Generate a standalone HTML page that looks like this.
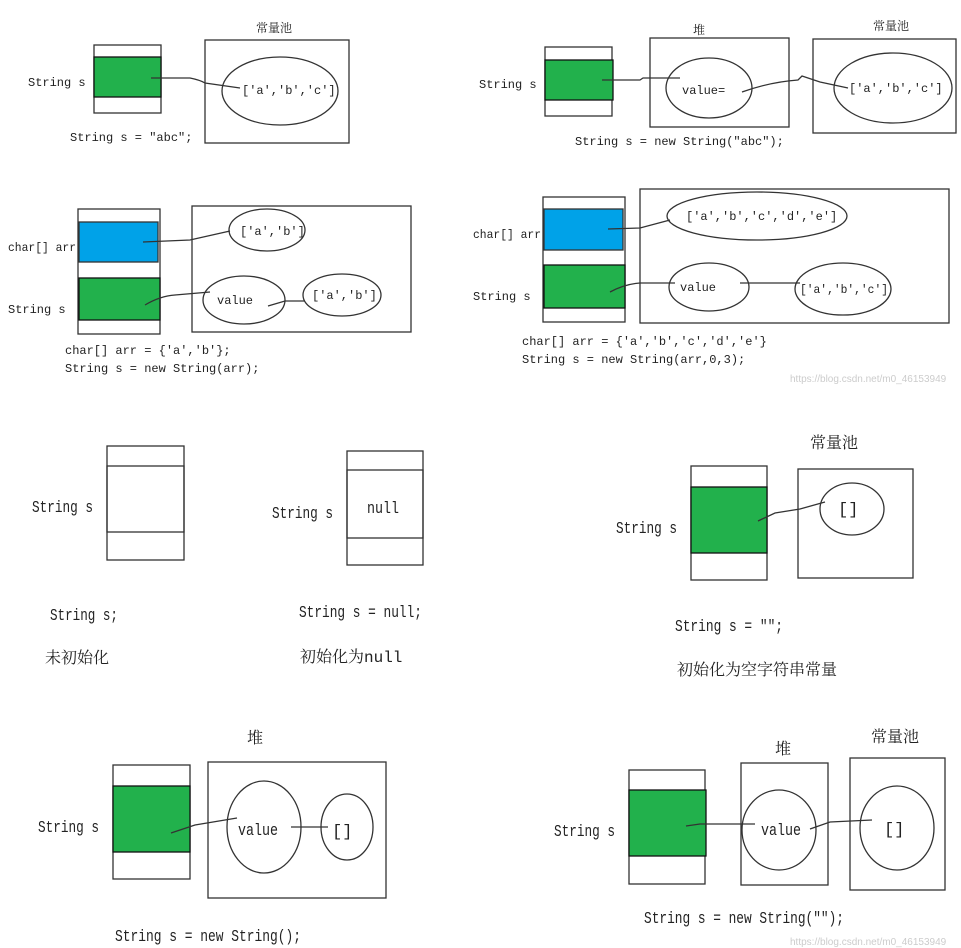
<!DOCTYPE html>
<html><head><meta charset="utf-8"><style>
html,body{margin:0;padding:0;background:#fff;}
svg{display:block;}
text{font-family:"Liberation Mono","Noto Serif CJK SC",monospace;fill:#222;}
.s{font-size:12px;}
.b{font-size:17px;}
.cn{font-family:"Noto Sans CJK SC",sans-serif;font-size:14px;}
</style></head><body>
<svg width="961" height="948" viewBox="0 0 961 948" xmlns="http://www.w3.org/2000/svg">
<g fill="none" stroke="#333" stroke-width="1.3">
<rect x="94" y="45" width="67" height="68"/>
<rect x="94" y="57" width="67" height="40" fill="#22b14c" stroke="#111"/>
<rect x="205" y="40" width="144" height="103"/>
<ellipse cx="280" cy="91" rx="58" ry="34"/>
<path d="M151 78 L190 78 Q200 80 205 83 L240 88"/>
<rect x="545" y="47" width="67" height="69"/>
<rect x="545" y="60" width="68" height="40" fill="#22b14c" stroke="#111"/>
<rect x="650" y="38" width="139" height="89"/>
<ellipse cx="709" cy="88" rx="43" ry="30"/>
<rect x="813" y="39" width="143" height="94"/>
<ellipse cx="893" cy="88" rx="59" ry="35"/>
<path d="M602 80 L640 80 L643 78 L680 78"/>
<path d="M742 92 Q770 82 798 80 L802 76 L820 82 L848 88"/>
<rect x="78" y="209" width="82" height="125"/>
<rect x="79" y="222" width="79" height="40" fill="#00a2e8" stroke="#333"/>
<rect x="79" y="278" width="81" height="42" fill="#22b14c" stroke="#111"/>
<rect x="192" y="206" width="219" height="126"/>
<ellipse cx="267" cy="230" rx="38" ry="21"/>
<ellipse cx="244" cy="300" rx="41" ry="24"/>
<ellipse cx="342" cy="295" rx="39" ry="21"/>
<path d="M143 242 L190 240 L230 231"/>
<path d="M145 305 Q160 296 175 295 L210 292"/>
<path d="M268 306 L285 301 L305 301"/>
<rect x="543" y="197" width="82" height="125"/>
<rect x="544" y="209" width="79" height="41" fill="#00a2e8" stroke="#333"/>
<rect x="544" y="265" width="81" height="43" fill="#22b14c" stroke="#111"/>
<rect x="640" y="189" width="309" height="134"/>
<ellipse cx="757" cy="216" rx="90" ry="24"/>
<ellipse cx="709" cy="287" rx="40" ry="24"/>
<ellipse cx="843" cy="289" rx="48" ry="26"/>
<path d="M608 229 L640 228 L670 220"/>
<path d="M610 292 Q625 284 640 283 L675 283"/>
<path d="M740 283 L800 283"/>
<rect x="107" y="446" width="77" height="114"/>
<rect x="107" y="466" width="77" height="66"/>
<rect x="347" y="451" width="76" height="114"/>
<rect x="347" y="470" width="76" height="68"/>
<rect x="691" y="466" width="76" height="114"/>
<rect x="691" y="487" width="76" height="66" fill="#22b14c" stroke="#111"/>
<rect x="798" y="469" width="115" height="109"/>
<ellipse cx="852" cy="509" rx="32" ry="26"/>
<path d="M758 521 L775 513 L800 509 L825 502"/>
<rect x="113" y="765" width="77" height="114"/>
<rect x="113" y="786" width="77" height="66" fill="#22b14c" stroke="#111"/>
<rect x="208" y="762" width="178" height="136"/>
<ellipse cx="264" cy="827" rx="37" ry="46"/>
<ellipse cx="347" cy="827" rx="26" ry="33"/>
<path d="M171 833 L195 825 L237 818"/>
<path d="M291 827 L328 827"/>
<rect x="629" y="770" width="76" height="114"/>
<rect x="629" y="790" width="77" height="66" fill="#22b14c" stroke="#111"/>
<rect x="741" y="763" width="87" height="122"/>
<ellipse cx="779" cy="830" rx="37" ry="40"/>
<rect x="850" y="758" width="95" height="132"/>
<ellipse cx="897" cy="828" rx="37" ry="42"/>
<path d="M686 826 L700 824 L755 824"/>
<path d="M810 829 L830 822 L872 820"/>
</g>
<g class="s">
<text x="28" y="86">String s</text>
<text x="242" y="94">['a','b','c']</text>
<text x="70" y="141">String s = "abc";</text>
<text x="479" y="88">String s</text>
<text x="682" y="94">value=</text>
<text x="849" y="92">['a','b','c']</text>
<text x="575" y="145">String s = new String("abc");</text>
<text x="8" y="251" textLength="68" lengthAdjust="spacingAndGlyphs">char[] arr</text>
<text x="8" y="313">String s</text>
<text x="240" y="235">['a','b']</text>
<text x="217" y="304">value</text>
<text x="312" y="299">['a','b']</text>
<text x="65" y="354">char[] arr = {'a','b'};</text>
<text x="65" y="372">String s = new String(arr);</text>
<text x="473" y="238" textLength="68" lengthAdjust="spacingAndGlyphs">char[] arr</text>
<text x="473" y="300">String s</text>
<text x="686" y="220">['a','b','c','d','e']</text>
<text x="680" y="291">value</text>
<text x="800" y="293" textLength="88" lengthAdjust="spacingAndGlyphs">['a','b','c']</text>
<text x="522" y="345">char[] arr = {'a','b','c','d','e'}</text>
<text x="522" y="363">String s = new String(arr,0,3);</text>
</g>
<text x="790" y="382" style="font-family:'Liberation Sans',sans-serif;font-size:10px;fill:#ccc">https://blog.csdn.net/m0_46153949</text>
<g class="cn" style="font-size:12px">
<text x="256" y="32">常量池</text>
<text x="693" y="34">堆</text>
<text x="873" y="30">常量池</text>
</g>
<g class="b">
<text x="32" y="512" textLength="61" lengthAdjust="spacingAndGlyphs">String s</text>
<text x="50" y="620" textLength="68" lengthAdjust="spacingAndGlyphs">String s;</text>
<text x="272" y="518" textLength="61" lengthAdjust="spacingAndGlyphs">String s</text>
<text x="367" y="513" textLength="32" lengthAdjust="spacingAndGlyphs">null</text>
<text x="299" y="617" textLength="123" lengthAdjust="spacingAndGlyphs">String s = null;</text>
<text x="616" y="533" textLength="61" lengthAdjust="spacingAndGlyphs">String s</text>
<text x="838" y="514">[]</text>
<text x="675" y="631" textLength="108" lengthAdjust="spacingAndGlyphs">String s = "";</text>
<text x="38" y="832" textLength="61" lengthAdjust="spacingAndGlyphs">String s</text>
<text x="238" y="835" textLength="40" lengthAdjust="spacingAndGlyphs">value</text>
<text x="332" y="836">[]</text>
<text x="115" y="941" textLength="186" lengthAdjust="spacingAndGlyphs">String s = new String();</text>
<text x="554" y="836" textLength="61" lengthAdjust="spacingAndGlyphs">String s</text>
<text x="761" y="835" textLength="40" lengthAdjust="spacingAndGlyphs">value</text>
<text x="884" y="834">[]</text>
<text x="644" y="923" textLength="200" lengthAdjust="spacingAndGlyphs">String s = new String("");</text>
</g>
<g class="cn" style="font-size:16px">
<text x="45" y="663">未初始化</text>
<text x="300" y="662">初始化为null</text>
<text x="677" y="675">初始化为空字符串常量</text>
<text x="810" y="448">常量池</text>
<text x="247" y="743">堆</text>
<text x="775" y="754">堆</text>
<text x="871" y="742">常量池</text>
</g>
<text x="790" y="945" style="font-family:'Liberation Sans',sans-serif;font-size:10px;fill:#ccc">https://blog.csdn.net/m0_46153949</text>
</svg>
</body></html>
